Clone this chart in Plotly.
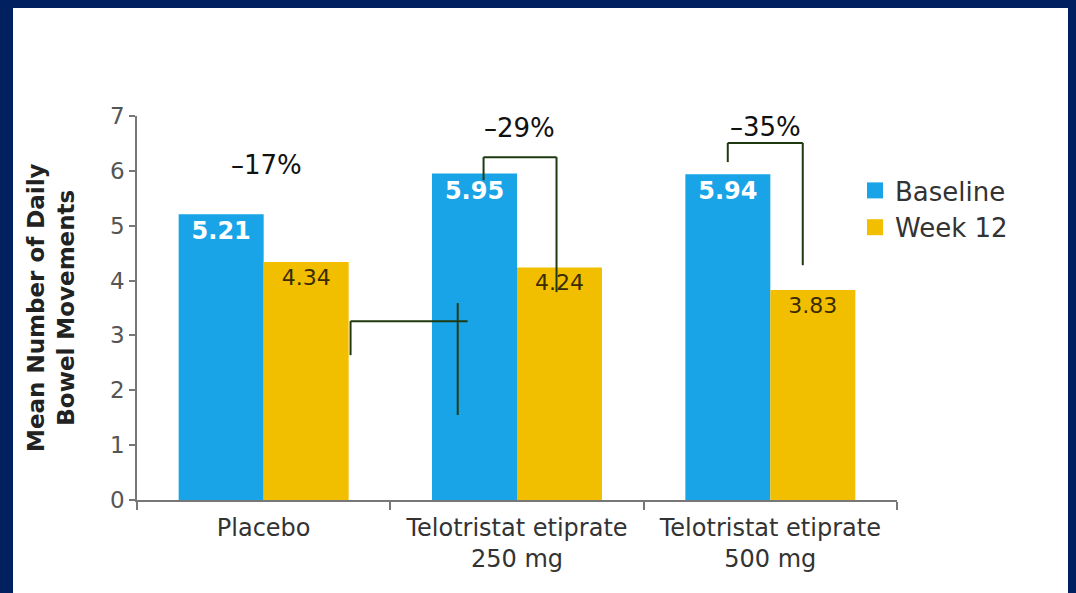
import plotly.graph_objects as go

# Treatment groups and mean daily bowel movements
categories = ["Placebo", "Telotristat etiprate<br>250 mg", "Telotristat etiprate<br>500 mg"]
baseline = [5.21, 5.95, 5.94]
week12 = [4.34, 4.24, 3.83]
pct_labels = ["\u201317%", "\u201329%", "\u201335%"]
y_ticks = [0, 1, 2, 3, 4, 5, 6, 7]

NAVY = "#012060"
BLUE = "#19a4e8"
GOLD = "#f2bf00"
LINE = "#1f3a10"
FONT = "DejaVu Sans, Liberation Sans, Arial, sans-serif"

idx = list(range(len(categories)))

fig = go.Figure()
fig.add_trace(go.Bar(
    x=idx, y=baseline, name="Baseline", marker=dict(color=BLUE, line=dict(width=0)),
    text=[f"{v:.2f}" for v in baseline], textposition="inside", insidetextanchor="end",
    textfont=dict(family=FONT, size=24, color="white", weight="bold"),
    textangle=0, constraintext="none", showlegend=False,
))
fig.add_trace(go.Bar(
    x=idx, y=week12, name="Week 12", marker=dict(color=GOLD, line=dict(width=0)),
    text=[f"{v:.2f}" for v in week12], textposition="inside", insidetextanchor="end",
    textfont=dict(family=FONT, size=22, color="#3a2c00"),
    textangle=0, constraintext="none", showlegend=False,
))
# legend entries with larger square swatches
for nm, col in [("Baseline", BLUE), ("Week 12", GOLD)]:
    fig.add_trace(go.Scatter(
        x=[None], y=[None], mode="markers", name=nm,
        marker=dict(symbol="square", size=16, color=col),
    ))

# white content panel inside the navy frame (paper coords relative to plot area)
plot_l, plot_r, plot_t, plot_b = 137, 897, 116, 500
W, H = 1076, 593
pw, ph = plot_r - plot_l, plot_b - plot_t


def px_x(p):
    return (p - plot_l) / pw


def px_y(p):
    return (plot_b - p) / ph


shapes = [dict(type="rect", xref="paper", yref="paper", layer="below",
               x0=px_x(13), x1=px_x(1068), y0=px_y(600), y1=px_y(8),
               fillcolor="white", line=dict(width=0))]

half = 0.168  # offset of each bar centre from the category centre


def seg(x0, y0, x1, y1):
    return dict(type="line", xref="x", yref="y", x0=x0, y0=y0, x1=x1, y1=y1,
                line=dict(color=LINE, width=2))


# bracket over 250 mg
c = 1
shapes += [seg(c - 0.132, 5.83, c - 0.132, 6.25), seg(c - 0.132, 6.25, c + 0.156, 6.25),
           seg(c + 0.156, 6.25, c + 0.156, 3.79)]
# bracket over 500 mg
c = 2
shapes += [seg(c - half, 6.16, c - half, 6.51), seg(c - half, 6.51, c + 0.128, 6.51),
           seg(c + 0.128, 6.51, c + 0.128, 4.28)]
# displaced bracket pieces between placebo and 250 mg
shapes += [seg(0.343, 2.64, 0.343, 3.26), seg(0.343, 3.26, 0.805, 3.26),
           seg(0.766, 1.55, 0.766, 3.59)]

annotations = [
    dict(x=0.01, y=6.11, text=pct_labels[0]),
    dict(x=1.01, y=6.78, text=pct_labels[1]),
    dict(x=1.98, y=6.80, text=pct_labels[2]),
]
for a in annotations:
    a.update(xref="x", yref="y", showarrow=False, font=dict(family=FONT, size=26, color="#111"))

annotations.append(dict(
    xref="paper", yref="paper", x=px_x(51), y=0.5, xanchor="center", yanchor="middle",
    textangle=-90, showarrow=False,
    text="Mean Number of Daily<br>Bowel Movements",
    font=dict(family=FONT, size=23, color="#222", weight="bold"),
))

fig.update_layout(
    width=W, height=H,
    margin=dict(l=plot_l, r=W - plot_r, t=plot_t, b=H - plot_b),
    paper_bgcolor=NAVY, plot_bgcolor="rgba(0,0,0,0)",
    barmode="group", bargap=0.329, bargroupgap=0,
    shapes=shapes, annotations=annotations,
    font=dict(family=FONT),
    legend=dict(x=px_x(855), y=px_y(167), xanchor="left", yanchor="top",
                font=dict(family=FONT, size=26, color="#333"),
                bgcolor="rgba(0,0,0,0)", tracegroupgap=0, itemsizing="trace"),
    xaxis=dict(
        type="category", tickmode="array", tickvals=idx, ticktext=categories,
        tickson="boundaries", ticks="outside", ticklen=8, tickcolor="#777", tickwidth=1.5,
        showline=True, linecolor="#777", linewidth=1.5, showgrid=False, zeroline=False,
        tickfont=dict(family=FONT, size=24, color="#333"), range=[-0.5, 2.5],
        ticklabelstandoff=5,
    ),
    yaxis=dict(
        range=[0, 7], tickvals=y_ticks, ticks="outside", ticklen=6, tickcolor="#777",
        tickwidth=1.5, showline=True, linecolor="#777", linewidth=1.5,
        showgrid=False, zeroline=False,
        tickfont=dict(family=FONT, size=23, color="#555"),
    ),
)

fig.write_html("out.html")
